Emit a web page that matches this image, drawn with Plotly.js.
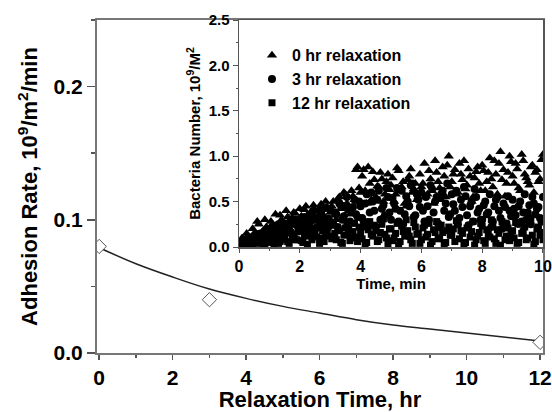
<!DOCTYPE html>
<html>
<head>
<meta charset="utf-8">
<script src="https://cdn.plot.ly/plotly-3.0.1.min.js"></script>
<style>html,body{margin:0;padding:0;background:#fff}#chart{width:552px;height:412px}</style>
</head>
<body>
<div id="chart"></div>
<script>
// Main chart: adhesion rate vs relaxation time
var relaxTime = [0, 3, 12];
var adhesionRate = [0.080, 0.040, 0.008];
// Fitted curve
var fitTime = [0, 1, 2, 3, 4, 5, 6, 7, 8, 9, 10, 11, 12];
var fitRate = [0.079, 0.067, 0.057, 0.048, 0.041, 0.035, 0.030, 0.025, 0.021, 0.018, 0.015, 0.012, 0.009];

// Inset: bacteria number vs time (min); samples at whole tenths (A) and half tenths (B)
var timeA = [], timeB = [];
for (var i = 0; i <= 100; i++) timeA.push(+(i * 0.1).toFixed(2));
for (var j = 0; j < 100; j++) timeB.push(+(j * 0.1 + 0.05).toFixed(2));

var hr0A = [0.05,0.10,0.03,0.12,0.08,0.15,0.28,0.10,0.18,0.22,
  0.14,0.25,0.36,0.20,0.30,0.18,0.33,0.24,0.38,0.27,
  0.42,0.30,0.45,0.22,0.35,0.40,0.28,0.47,0.33,0.44,
  0.38,0.50,0.30,0.55,0.45,0.58,0.40,0.62,0.52,0.88,
  0.60,0.85,0.48,0.70,0.83,0.55,0.66,0.75,0.58,0.80,
  0.68,0.50,0.87,0.62,0.72,0.45,0.78,0.60,0.70,0.55,
  0.66,0.92,0.58,0.75,0.48,0.82,0.65,0.88,0.55,1.00,
  0.72,0.85,0.60,0.80,0.95,0.68,0.78,0.55,0.83,0.70,
  0.90,0.62,0.82,0.75,0.95,0.58,1.05,0.85,0.70,1.00,
  0.78,0.92,0.65,1.02,0.80,0.72,0.88,0.60,0.85,0.75,
  1.02];
var hr0B = [0.02,0.08,0.15,0.06,0.20,0.12,0.25,0.16,0.30,0.19,
  0.28,0.22,0.15,0.35,0.26,0.40,0.21,0.32,0.37,0.25,
  0.34,0.41,0.26,0.38,0.46,0.31,0.43,0.36,0.50,0.29,
  0.45,0.35,0.53,0.42,0.60,0.48,0.36,0.56,0.85,0.65,
  0.78,0.62,0.88,0.52,0.74,0.67,0.82,0.50,0.72,0.63,
  0.76,0.58,0.84,0.66,0.48,0.74,0.86,0.64,0.52,0.80,
  0.70,0.56,0.84,0.62,0.95,0.72,0.52,0.78,0.90,0.66,
  0.80,0.58,0.92,0.74,0.64,0.86,0.50,0.76,0.88,0.62,
  0.84,0.72,0.98,0.66,0.80,0.92,0.74,0.56,0.82,0.94,
  0.70,0.86,0.62,0.95,0.76,0.68,0.90,0.82,0.72,0.96];
var hr3A = [0.02,0.06,0.04,0.10,0.05,0.12,0.08,0.15,0.06,0.18,
  0.10,0.20,0.13,0.25,0.08,0.22,0.16,0.28,0.12,0.24,
  0.30,0.18,0.26,0.35,0.14,0.32,0.22,0.38,0.28,0.20,
  0.42,0.25,0.36,0.48,0.30,0.45,0.20,0.40,0.52,0.33,
  0.45,0.28,0.58,0.38,0.50,0.22,0.62,0.42,0.35,0.55,
  0.30,0.48,0.65,0.40,0.25,0.56,0.45,0.70,0.35,0.52,
  0.60,0.28,0.45,0.68,0.38,0.55,0.22,0.62,0.48,0.33,
  0.58,0.40,0.25,0.52,0.66,0.35,0.45,0.28,0.55,0.42,
  0.30,0.50,0.38,0.22,0.45,0.55,0.32,0.48,0.26,0.40,
  0.52,0.35,0.45,0.28,0.58,0.38,0.25,0.48,0.42,0.32,
  0.55];
var hr3B = [0.04,0.01,0.08,0.03,0.11,0.07,0.14,0.09,0.17,0.11,
  0.15,0.09,0.22,0.18,0.11,0.26,0.20,0.14,0.30,0.17,
  0.24,0.33,0.16,0.28,0.40,0.21,0.34,0.25,0.43,0.31,
  0.27,0.38,0.22,0.46,0.34,0.55,0.28,0.44,0.36,0.50,
  0.32,0.48,0.25,0.60,0.40,0.52,0.30,0.46,0.65,0.38,
  0.54,0.42,0.28,0.62,0.36,0.50,0.68,0.33,0.58,0.44,
  0.40,0.55,0.30,0.64,0.50,0.26,0.58,0.40,0.70,0.36,
  0.47,0.62,0.32,0.44,0.56,0.24,0.50,0.64,0.38,0.30,
  0.46,0.36,0.58,0.28,0.52,0.40,0.20,0.44,0.56,0.34,
  0.42,0.26,0.50,0.38,0.30,0.46,0.55,0.36,0.44,0.28];
var hr12A = [0.00,0.03,0.01,0.05,0.02,0.06,0.04,0.08,0.03,0.10,
  0.05,0.12,0.07,0.04,0.14,0.09,0.06,0.16,0.10,0.08,
  0.18,0.05,0.12,0.20,0.08,0.15,0.22,0.10,0.06,0.17,
  0.12,0.24,0.08,0.18,0.04,0.21,0.14,0.10,0.26,0.06,
  0.16,0.22,0.05,0.28,0.12,0.18,0.08,0.25,0.14,0.03,
  0.20,0.10,0.26,0.06,0.17,0.30,0.12,0.04,0.22,0.15,
  0.08,0.24,0.14,0.02,0.19,0.28,0.10,0.16,0.05,0.22,
  0.13,0.06,0.25,0.18,0.03,0.21,0.11,0.28,0.08,0.16,
  0.23,0.04,0.14,0.30,0.09,0.19,0.02,0.25,0.12,0.07,
  0.18,0.27,0.05,0.15,0.22,0.10,0.32,0.03,0.20,0.13,
  0.08];
var hr12B = [0.02,0.04,0.00,0.07,0.03,0.09,0.05,0.11,0.02,0.07,
  0.10,0.03,0.13,0.06,0.11,0.17,0.04,0.12,0.08,0.19,
  0.07,0.14,0.03,0.16,0.21,0.11,0.04,0.18,0.13,0.23,
  0.09,0.15,0.20,0.05,0.13,0.27,0.07,0.17,0.11,0.22,
  0.09,0.03,0.19,0.14,0.24,0.06,0.16,0.31,0.10,0.20,
  0.07,0.15,0.02,0.23,0.12,0.18,0.08,0.27,0.14,0.04,
  0.21,0.11,0.26,0.06,0.16,0.09,0.24,0.03,0.18,0.13,
  0.20,0.29,0.09,0.15,0.05,0.23,0.17,0.02,0.12,0.26,
  0.07,0.19,0.11,0.24,0.04,0.15,0.28,0.08,0.21,0.14,
  0.10,0.04,0.25,0.17,0.08,0.29,0.13,0.06,0.22,0.16];
var seriesNames = ['0 hr relaxation', '3 hr relaxation', '12 hr relaxation'];

var FONT = 'Liberation Sans, Arial, sans-serif';
var insetX = timeA.concat(timeB);

var traces = [
  {x: fitTime, y: fitRate, type: 'scatter', mode: 'lines', line: {color: '#222', width: 1.5, shape: 'spline'},
   xaxis: 'x', yaxis: 'y', showlegend: false, hoverinfo: 'skip'},
  {x: relaxTime, y: adhesionRate, type: 'scatter', mode: 'markers',
   marker: {symbol: 'diamond', size: 11, color: '#fff', line: {color: '#555', width: 1}},
   xaxis: 'x', yaxis: 'y', showlegend: false},
  {x: insetX, y: hr0A.concat(hr0B), type: 'scatter', mode: 'markers', name: seriesNames[0],
   marker: {symbol: 'triangle-up', size: 9, color: '#000'}, xaxis: 'x2', yaxis: 'y2'},
  {x: insetX, y: hr3A.concat(hr3B), type: 'scatter', mode: 'markers', name: seriesNames[1],
   marker: {symbol: 'circle', size: 8, color: '#000'}, xaxis: 'x2', yaxis: 'y2'},
  {x: insetX, y: hr12A.concat(hr12B), type: 'scatter', mode: 'markers', name: seriesNames[2],
   marker: {symbol: 'square', size: 7, color: '#000'}, xaxis: 'x2', yaxis: 'y2'}
];

var layout = {
  width: 552, height: 412,
  margin: {l: 97, r: 9, t: 20, b: 59},
  paper_bgcolor: '#fff', plot_bgcolor: '#fff',
  font: {family: FONT, color: '#000'},
  showlegend: true,
  legend: {x: 0.3475, y: 0.945, xanchor: 'left', yanchor: 'top', bgcolor: 'rgba(0,0,0,0)',
           font: {family: FONT, size: 16, weight: 'bold', color: '#000'}, tracegroupgap: 0},
  xaxis: {
    domain: [0, 1], range: [-0.06, 12.08], showgrid: false, zeroline: false,
    showline: true, linecolor: '#777', linewidth: 2, mirror: true,
    ticks: 'outside', ticklen: 5, tickwidth: 1.5, tickcolor: '#555', dtick: 2, tick0: 0,
    minor: {dtick: 1, ticks: 'outside', ticklen: 3, tickcolor: '#555', showgrid: false},
    tickfont: {family: FONT, size: 21, weight: 'bold'}, ticklabeloverflow: 'allow',
    title: {text: 'Relaxation Time, hr', font: {family: FONT, size: 22, weight: 'bold'}, standoff: 15}
  },
  yaxis: {
    domain: [0, 1], range: [0, 0.25], showgrid: false, zeroline: false,
    showline: true, linecolor: '#777', linewidth: 2, mirror: true,
    ticks: 'outside', ticklen: 8, tickwidth: 1.5, tickcolor: '#555', dtick: 0.1, tick0: 0, tickformat: '.1f',
    minor: {dtick: 0.05, ticks: 'outside', ticklen: 4, tickcolor: '#555', showgrid: false},
    tickfont: {family: FONT, size: 21, weight: 'bold'},
    title: {text: 'Adhesion Rate, 10<sup>9</sup>/m<sup>2</sup>/min', font: {family: FONT, size: 22, weight: 'bold'}, standoff: 10}
  },
  xaxis2: {
    domain: [0.3184, 1], anchor: 'y2', range: [0, 10], showgrid: false, zeroline: false,
    showline: true, linecolor: '#555', linewidth: 1.5, mirror: true,
    ticks: 'outside', ticklen: 4, tickcolor: '#555', dtick: 2, tick0: 0,
    minor: {dtick: 1, ticks: 'outside', ticklen: 2, tickcolor: '#555', showgrid: false},
    tickfont: {family: FONT, size: 16, weight: 'bold'}, ticklabeloverflow: 'allow',
    title: {text: 'Time, min', font: {family: FONT, size: 15, weight: 'bold'}, standoff: 3}
  },
  yaxis2: {
    domain: [0.3183, 1], anchor: 'x2', range: [0, 2.5], showgrid: false, zeroline: false,
    showline: true, linecolor: '#555', linewidth: 1.5, mirror: true,
    ticks: 'outside', ticklen: 5, tickcolor: '#555', dtick: 0.5, tick0: 0, tickformat: '.1f',
    minor: {dtick: 0.25, ticks: 'outside', ticklen: 2, tickcolor: '#555', showgrid: false},
    tickfont: {family: FONT, size: 15, weight: 'bold'},
    title: {text: 'Bacteria Number, 10<sup>9</sup>/M<sup>2</sup>', font: {family: FONT, size: 15, weight: 'bold'}, standoff: 4}
  }
};

Plotly.newPlot('chart', traces, layout, {displayModeBar: false, staticPlot: true});
</script>
</body>
</html>
